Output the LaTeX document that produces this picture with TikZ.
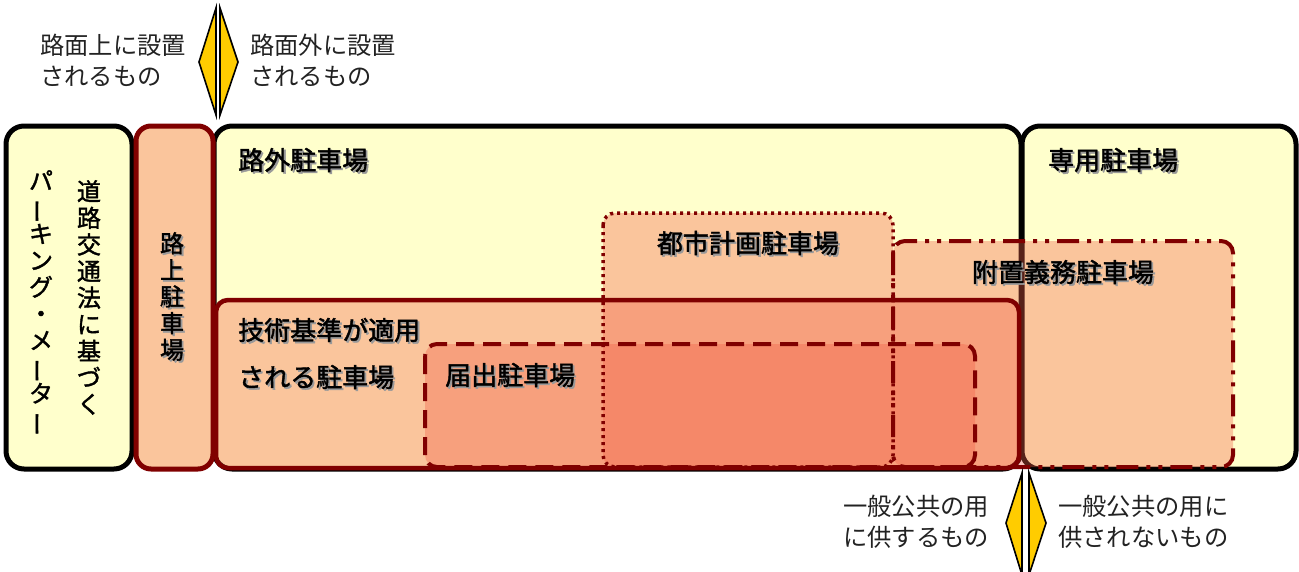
\documentclass[tikz,border=0pt]{standalone}
\usepackage{fontspec}
\newfontfamily\jp{Noto Sans CJK JP}
\newfontfamily\jpb[FakeBold=1.6]{Noto Sans CJK JP}
\definecolor{ylw}{HTML}{FFFFCC}
\definecolor{dred}{HTML}{800000}
\definecolor{salm}{HTML}{F26048}
\definecolor{arrowy}{HTML}{FFCC00}
\definecolor{anno}{HTML}{222222}
\newcommand{\vbar}{\rotatebox[origin=c]{90}{ー}}
\begin{document}
\begin{tikzpicture}[x=1pt,y=-1pt,
  outerbox/.style={draw=black,line width=5pt,fill=ylw,rounded corners=18pt},
  layer/.style={fill=salm,fill opacity=0.36},
  redsolid/.style={draw=dred,line width=4.5pt,rounded corners=12pt},
  reddot/.style={draw=dred,line width=3.5pt,dash pattern=on 3pt off 4pt,rounded corners=12pt},
  reddash/.style={draw=dred,line width=4pt,dash pattern=on 18pt off 9pt,rounded corners=12pt},
  reddashdot/.style={draw=dred,line width=4pt,dash pattern=on 22pt off 8pt on 4pt off 8pt on 4pt off 8pt,rounded corners=12pt},
  lbl/.style={font=\jpb\fontsize{26}{30}\selectfont,text=black,inner sep=0pt},
  shd/.style={font=\jpb\fontsize{26}{30}\selectfont,text=black!40,inner sep=0pt,xshift=1.8pt,yshift=-1.8pt},
  vlbl/.style={font=\jpb\fontsize{24}{26.6}\selectfont,text=black,inner sep=0pt,align=center},
  vshd/.style={font=\jpb\fontsize{24}{26.6}\selectfont,text=black!40,inner sep=0pt,align=center,xshift=1.8pt,yshift=-1.8pt},
  annot/.style={font=\jp\fontsize{24.3}{30.5}\selectfont,text=anno,inner sep=0pt,align=left},
  kite/.style={draw=black,line width=1.6pt,fill=arrowy,line join=miter}
]
\useasboundingbox (0,0) rectangle (1299,571);

% base yellow boxes
\draw[outerbox] (6,126) rectangle (132,469);
\draw[outerbox] (214,126) rectangle (1021,469);
\draw[outerbox] (1022,126) rectangle (1296,469);
% road parking box
\draw[fill=ylw,draw=none,rounded corners=15pt] (136,126) rectangle (213,469);
\fill[layer,rounded corners=15pt] (136,126) rectangle (213,469);
\draw[draw=dred,line width=5pt,rounded corners=15pt] (136,126) rectangle (213,469);

% overlay layers
\fill[layer,rounded corners=12pt] (216,300) rectangle (1019,468);
\fill[layer,rounded corners=12pt] (603,213) rectangle (893,467);
\fill[layer,rounded corners=12pt] (893,241) rectangle (1233,467);
\fill[layer,rounded corners=12pt] (425,344) rectangle (975,467);
% overlay borders
\draw[redsolid] (216,300) rectangle (1019,468);
\draw[reddot] (603,213) rectangle (893,467);
\draw[reddashdot] (893,241) rectangle (1233,467);
\draw[reddash] (425,344) rectangle (975,467);

% box labels with shadows
\node[shd,anchor=west] at (238,160) {路外駐車場};
\node[lbl,anchor=west] (rogai) at (238,160) {路外駐車場};
\node[shd,anchor=west] at (1048,160) {専用駐車場};
\node[lbl,anchor=west] (senyo) at (1048,160) {専用駐車場};
\node[shd] at (748,243) {都市計画駐車場};
\node[lbl] (toshi) at (748,243) {都市計画駐車場};
\node[shd] at (1063,272) {附置義務駐車場};
\node[lbl] (fuchi) at (1063,272) {附置義務駐車場};
\node[shd,anchor=west] at (238,330) {技術基準が適用};
\node[lbl,anchor=west] (gijutsu1) at (238,330) {技術基準が適用};
\node[shd,anchor=west] at (238,377) {される駐車場};
\node[lbl,anchor=west] (gijutsu2) at (238,377) {される駐車場};
\node[shd,anchor=west] at (445,375) {届出駐車場};
\node[lbl,anchor=west] (todoke) at (445,375) {届出駐車場};

% vertical labels
\node[vshd,anchor=north] at (172,232) {路\\上\\駐\\車\\場};
\node[vlbl,anchor=north] (rojo) at (172,232) {路\\上\\駐\\車\\場};
\node[vlbl,anchor=north] (doro) at (89,180) {道\\路\\交\\通\\法\\に\\基\\づ\\く};
\node[vlbl,anchor=north] (pm) at (41,170) {パ\\\vbar\\キ\\ン\\グ\\・\\メ\\\vbar\\タ\\\vbar};

% top separator arrow
\coordinate (ta) at (216,8);
\coordinate (tb) at (216,115);
\coordinate (tc) at (220,8);
\coordinate (td) at (220,115);
\draw[kite] (ta) -- (199,62) -- (tb) -- cycle;
\draw[kite] (tc) -- (238,62) -- (td) -- cycle;
\node[annot,anchor=north west] (onroad) at (40,34) {路面上に設置\\されるもの};
\node[annot,anchor=north west] (offroad) at (250,34) {路面外に設置\\されるもの};

% bottom separator arrow
\coordinate (ba) at (1022,473);
\coordinate (bb) at (1022,575);
\coordinate (bc) at (1029,473);
\coordinate (bd) at (1029,575);
\draw[kite] (ba) -- (1006,523) -- (bb) -- cycle;
\draw[kite] (bc) -- (1046,523) -- (bd) -- cycle;
\node[annot,anchor=north west] (pub) at (843,495) {一般公共の用\\に供するもの};
\node[annot,anchor=north west] (nonpub) at (1058,495) {一般公共の用に\\供されないもの};
\end{tikzpicture}
\end{document}
